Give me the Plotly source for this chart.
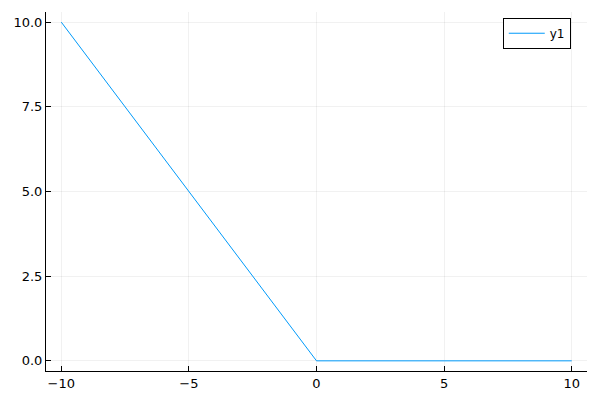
import plotly.graph_objects as go

x_vals = [-10, -5, 0, 5, 10]
y_vals = [10, 5, 0, 0, 0]

x_ticks = [-10, -5, 0, 5, 10]
x_labels = ["−10", "−5", "0", "5", "10"]
y_ticks = [0, 2.5, 5, 7.5, 10]
y_labels = ["0.0", "2.5", "5.0", "7.5", "10.0"]

fig = go.Figure()
fig.add_trace(go.Scatter(x=x_vals, y=y_vals, mode="lines", name="y1",
                         line=dict(color="#009AFA", width=1)))

axis_style = dict(showline=True, linecolor="black", linewidth=1, mirror=False,
                  ticks="inside", ticklen=5, tickcolor="black",
                  showgrid=True, gridcolor="rgba(0,0,0,0.055)", gridwidth=1,
                  zeroline=False, automargin=False,
                  tickfont=dict(size=13, color="black"))

fig.update_xaxes(range=[-10.6, 10.6], tickvals=x_ticks, ticktext=x_labels, **axis_style)
fig.update_yaxes(range=[-0.3, 10.3], tickvals=y_ticks, ticktext=y_labels, **axis_style)

fig.update_layout(
    width=600, height=400,
    margin=dict(l=46, r=13, t=12, b=29, autoexpand=False),
    plot_bgcolor="white", paper_bgcolor="white",
    font=dict(family="DejaVu Sans", size=13, color="black"),
    showlegend=True,
    legend=dict(x=0.97, y=0.984, xanchor="right", yanchor="top",
                bordercolor="black", borderwidth=1, bgcolor="white",
                itemwidth=36, font=dict(size=12)),
)

# la page a une marge de 8px par défaut, on l'enlève
fig.write_html("out.html", config={"displayModeBar": False},
               post_script="document.body.style.margin='0px';")
